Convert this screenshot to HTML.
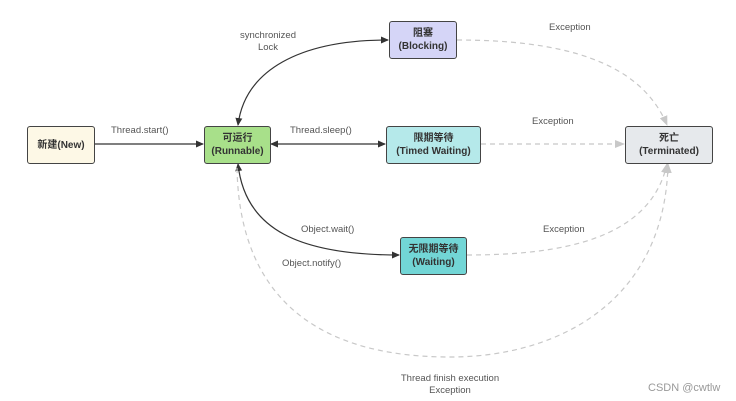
<!DOCTYPE html>
<html><head><meta charset="utf-8"><style>
body{margin:0;background:#fff;width:736px;height:401px;overflow:hidden}
.n{position:absolute;border:1.5px solid #444;border-radius:3px;box-sizing:border-box;display:flex;align-items:center;justify-content:center;text-align:center;font:bold 10px/13px "Liberation Sans","Noto Sans CJK SC",sans-serif;color:#333}
.t{position:absolute;font:9.5px/12px "Liberation Sans","Noto Sans CJK SC",sans-serif;color:#555;text-align:center;white-space:nowrap}
</style></head><body>
<svg width="736" height="401" style="position:absolute;left:0;top:0">
<defs>
<marker id="a" markerWidth="8" markerHeight="8" refX="7" refY="4" orient="auto-start-reverse" markerUnits="userSpaceOnUse"><path d="M0,0.5 L8,4 L0,7.5z" fill="#333"/></marker>
<marker id="g" markerWidth="10" markerHeight="10" refX="9" refY="5" orient="auto" markerUnits="userSpaceOnUse"><path d="M0,1 L10,5 L0,9z" fill="#c8c8c8"/></marker>
</defs>
<g fill="none" stroke="#333" stroke-width="1.2">
<path d="M94,144 L203,144" marker-end="url(#a)"/>
<path d="M271,144 L385,144" marker-start="url(#a)" marker-end="url(#a)"/>
<path d="M238,125 C245,70 300,40 388,40" marker-start="url(#a)" marker-end="url(#a)"/>
<path d="M238,164 C245,230 300,255 399,255" marker-start="url(#a)" marker-end="url(#a)"/>
</g>
<g fill="none" stroke="#c8c8c8" stroke-width="1.2" stroke-dasharray="5,4">
<path d="M457,40 C560,40 640,60 667,125" marker-end="url(#g)"/>
<path d="M481,144 L624,144" marker-end="url(#g)"/>
<path d="M467,255 C560,255 650,240 667,164" marker-end="url(#g)"/>
<path d="M237,168 C240,330 360,357 450,357 C560,357 665,300 668,164" marker-end="url(#g)"/>
</g>
</svg>
<div class="n" style="left:27px;top:126px;width:68px;height:38px;background:#fdf8e6">新建(New)</div>
<div class="n" style="left:204px;top:126px;width:67px;height:38px;background:#a8e08a">可运行<br>(Runnable)</div>
<div class="n" style="left:389px;top:21px;width:68px;height:38px;background:#d5d5f7">阻塞<br>(Blocking)</div>
<div class="n" style="left:386px;top:126px;width:95px;height:38px;background:#b5e9ea">限期等待<br>(Timed Waiting)</div>
<div class="n" style="left:625px;top:126px;width:88px;height:38px;background:#e6e9ec">死亡<br>(Terminated)</div>
<div class="n" style="left:400px;top:237px;width:67px;height:38px;background:#72d6d6">无限期等待<br>(Waiting)</div>
<div class="t" style="left:240px;top:30px">synchronized<br>Lock</div>
<div class="t" style="left:111px;top:125px">Thread.start()</div>
<div class="t" style="left:290px;top:125px">Thread.sleep()</div>
<div class="t" style="left:549px;top:22px">Exception</div>
<div class="t" style="left:532px;top:116px">Exception</div>
<div class="t" style="left:543px;top:224px">Exception</div>
<div class="t" style="left:301px;top:224px">Object.wait()</div>
<div class="t" style="left:282px;top:258px">Object.notify()</div>
<div class="t" style="left:400px;top:373px;width:100px">Thread finish execution<br>Exception</div>
<div class="t" style="left:648px;top:382px;color:#999;font-size:11px">CSDN @cwtlw</div>
</body></html>
